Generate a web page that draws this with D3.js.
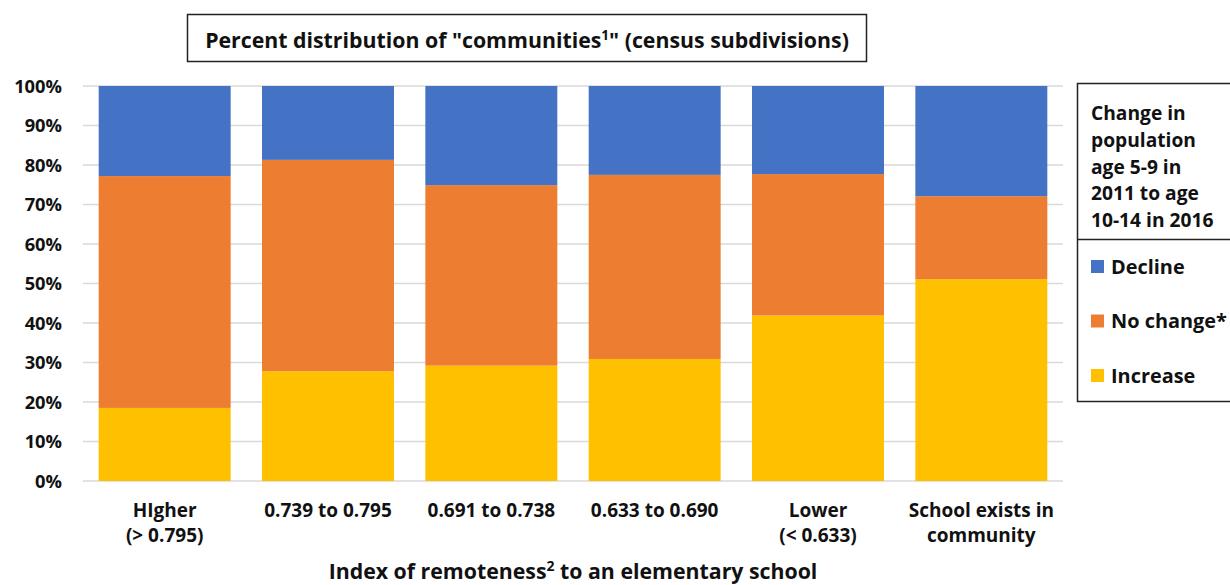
<!DOCTYPE html>
<html>
<head>
<meta charset="utf-8">
<script src="https://cdn.jsdelivr.net/npm/d3@7"></script>
<style>
  body { margin: 0; background: #fff; }
  svg { display: block; font-family: "Open Sans", Lato, sans-serif; font-weight: bold; }
</style>
</head>
<body>
<svg id="chart" width="1230" height="585"></svg>
<script>
const categories = [
	['HIgher', '(> 0.795)'],
	['0.739 to 0.795'],
	['0.691 to 0.738'],
	['0.633 to 0.690'],
	['Lower', '(< 0.633)'],
	['School exists in', 'community'],
];
const increase = [18.5, 27.8, 29.2, 30.9, 41.9, 51.1];
const noChange = [58.7, 53.5, 45.7, 46.6, 35.8, 21.0];
const decline = [22.8, 18.7, 25.1, 22.5, 22.3, 27.9];
const yTicks = [0, 10, 20, 30, 40, 50, 60, 70, 80, 90, 100];
const seriesNames = ['Increase', 'No change*', 'Decline'];
const colors = ['#FFC000', '#ED7D31', '#4472C4'];
const legendTitle = ['Change in', 'population', 'age 5-9 in', '2011 to age', '10-14 in 2016'];

const svg = d3.select('#chart');
const plotLeft = 83, plotRight = 1063, plotTop = 86, plotBottom = 481;

const rows = categories.map((c, i) => ({
	idx: i,
	Increase: increase[i],
	'No change*': noChange[i],
	Decline: decline[i],
}));

const x = d3.scaleBand()
	.domain(d3.range(categories.length))
	.range([plotLeft, plotRight])
	.paddingInner(0.192)
	.paddingOuter(0.096);

const y = d3.scaleLinear().domain([0, 100]).range([plotBottom, plotTop]);

// gridlines
svg.append('g')
	.selectAll('line')
	.data(yTicks)
	.join('line')
	.attr('x1', plotLeft)
	.attr('x2', plotRight)
	.attr('y1', (d) => y(d))
	.attr('y2', (d) => y(d))
	.attr('stroke', '#d9d9d9')
	.attr('stroke-width', 1.3);

// y tick labels
svg.append('g')
	.selectAll('text')
	.data(yTicks)
	.join('text')
	.attr('x', 62)
	.attr('y', (d) => y(d))
	.attr('dy', '0.36em')
	.attr('text-anchor', 'end')
	.attr('font-size', 18.3)
	.attr('fill', '#111')
	.text((d) => d + '%');

// stacked bars
const stack = d3.stack().keys(seriesNames)(rows);
svg.append('g')
	.selectAll('g')
	.data(stack)
	.join('g')
	.attr('fill', (s, i) => colors[i])
	.selectAll('rect')
	.data((s) => s)
	.join('rect')
	.attr('x', (d) => x(d.data.idx))
	.attr('width', x.bandwidth())
	.attr('y', (d) => y(d[1]))
	.attr('height', (d) => y(d[0]) - y(d[1]));

// x category labels
svg.append('g')
	.selectAll('text')
	.data(categories)
	.join('text')
	.attr('text-anchor', 'middle')
	.attr('font-size', 19)
	.attr('fill', '#111')
	.attr('transform', (d, i) => `translate(${x(i) + x.bandwidth() / 2},0)`)
	.selectAll('tspan')
	.data((d) => d)
	.join('tspan')
	.attr('x', 0)
	.attr('y', (d, j) => 517 + j * 25)
	.text((d) => d);

// x axis title
const xt = svg.append('text')
	.attr('x', (plotLeft + plotRight) / 2)
	.attr('y', 578.5)
	.attr('text-anchor', 'middle')
	.attr('font-size', 21.3)
	.attr('fill', '#111');
xt.append('tspan').text('Index of remoteness');
xt.append('tspan').attr('font-size', 14).attr('dy', -8).text('2');
xt.append('tspan').attr('dy', 8).text(' to an elementary school');

// title box
svg.append('rect')
	.attr('x', 187.5)
	.attr('y', 14.5)
	.attr('width', 679)
	.attr('height', 47)
	.attr('fill', '#fff')
	.attr('stroke', '#222')
	.attr('stroke-width', 1.5);
const tt = svg.append('text')
	.attr('x', 527)
	.attr('y', 47.5)
	.attr('text-anchor', 'middle')
	.attr('font-size', 21.3)
	.attr('fill', '#111');
tt.append('tspan').text('Percent distribution of "communities');
tt.append('tspan').attr('font-size', 13.5).attr('dy', -8).text('1');
tt.append('tspan').attr('dy', 8).text('" (census subdivisions)');

// legend box
const lg = svg.append('g');
lg.append('rect')
	.attr('x', 1077.5)
	.attr('y', 83.5)
	.attr('width', 170)
	.attr('height', 318)
	.attr('fill', '#fff')
	.attr('stroke', '#222')
	.attr('stroke-width', 1.5);
lg.append('line')
	.attr('x1', 1077.5)
	.attr('x2', 1240)
	.attr('y1', 239.5)
	.attr('y2', 239.5)
	.attr('stroke', '#222')
	.attr('stroke-width', 1.5);
lg.append('g')
	.selectAll('text')
	.data(legendTitle)
	.join('text')
	.attr('x', 1091)
	.attr('y', (d, i) => 120 + i * 26.75)
	.attr('font-size', 19.2)
	.attr('fill', '#111')
	.text((d) => d);

const legendItems = seriesNames.map((n, i) => ({ name: n, color: colors[i] })).reverse();
const item = lg.append('g')
	.selectAll('g')
	.data(legendItems)
	.join('g')
	.attr('transform', (d, i) => `translate(1091,${266.5 + i * 54.5})`);
item.append('rect')
	.attr('x', 0)
	.attr('y', -6.5)
	.attr('width', 13)
	.attr('height', 13)
	.attr('fill', (d) => d.color);
item.append('text')
	.attr('x', 20)
	.attr('dy', '0.36em')
	.attr('font-size', 19.9)
	.attr('fill', '#111')
	.text((d) => d.name);
</script>
</body>
</html>
